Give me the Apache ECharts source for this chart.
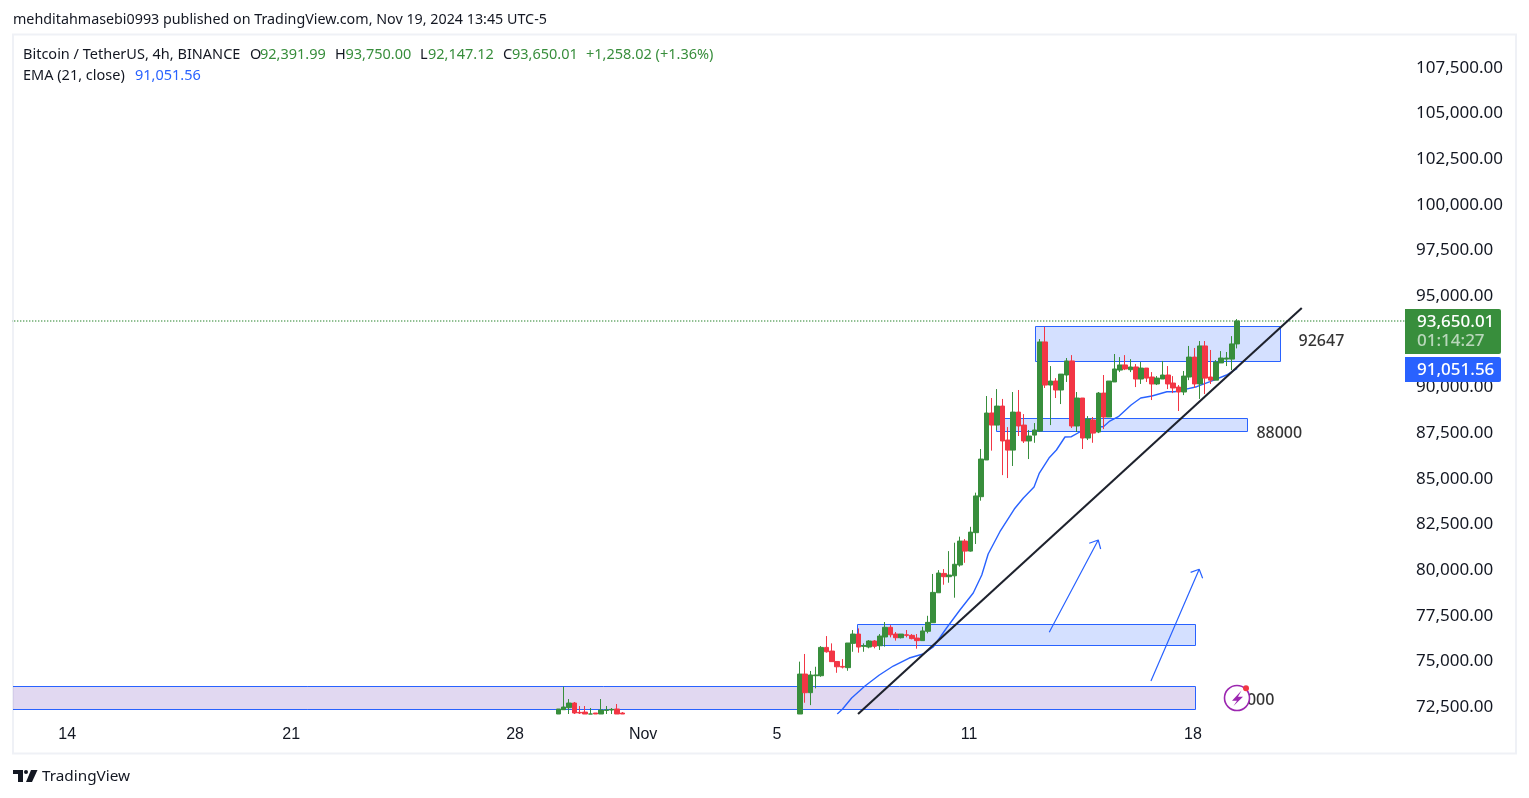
<!DOCTYPE html>
<html><head><meta charset="utf-8">
<style>html,body{margin:0;padding:0;background:#fff}#c{width:1529px;height:798px}</style>
<script src="https://cdn.jsdelivr.net/npm/echarts@6/dist/echarts.min.js"></script>
</head><body><div id="c"></div>
<script>
// bar position (4h bars counted from the Oct 14 label), then OHLC (only the visible part of each bar could be read)
const barX=[92.7,93.7,94.7,95.7,96.7,97.7,98.7,99.7,100.7,101.7,102.7,103.7,104.7,
138,139,140,141,142,143,144,145,146,147,148,149,150,151,152,153,154,155,156,157,158,159,160,161,162,163,164,165,166,167,168,169,170,171,172,173,174,175,176,177,178,179,180,181,182,183,184,185,186,187,188,189,190,191,192,193,194,195,196,197,198,199,200,201,202,203,204,205,206,207,208,209,210,211,212,213,214,215,216,217,218,219,220];
const barOpen=[72134,72370,72480,72735,72224,72240,72134,72188,72134,72330,72352,72407,72188,
72134,74320,73300,74230,74230,75780,75580,75010,74740,74670,76000,76510,75840,75800,76130,75870,76350,76880,76510,76310,76470,76440,76290,76150,76660,77130,78770,79830,79650,79700,80290,81600,81050,82060,84030,86040,88610,87950,88990,87130,86580,88660,87950,87080,87400,87620,92500,90140,90360,89870,90690,91460,87900,89430,87240,88230,87570,89700,88390,90310,90960,91240,90980,91130,90470,91070,90580,90200,90470,90690,90250,90030,89760,90580,91670,90200,92280,90580,90410,91350,91560,91560,92391.99];
const barClose=[72407,72516,72735,72188,72188,72134,72134,72134,72352,72352,72388,72134,72134,
74320,73300,74270,74270,75780,75540,75000,74720,74700,76020,76510,75800,75870,76130,75840,76400,76880,76470,76310,76510,76440,76260,76150,76680,77150,78790,79850,79650,79740,80330,81600,81050,82090,84070,86090,88610,87950,88990,87080,86580,88660,87900,87080,87350,87680,92500,90140,90360,89870,90740,91460,87900,89430,87240,88280,87510,89700,88390,90360,91020,91240,91020,91130,90470,91070,90520,90200,90520,90690,90200,89980,89760,90630,91670,90200,92280,90520,90410,91400,91620,91620,92392,93650.01];
const barLow=[72134,72370,72134,72134,72134,72134,72134,72134,72134,72134,72134,72134,72134,
72134,72750,72620,73540,74170,75490,75000,74390,74630,74500,75540,75490,75540,75730,75730,75640,75820,76330,76150,76270,76330,76220,75710,76150,76550,77130,78770,79210,79320,78500,80200,80410,81020,81440,83810,86040,86550,87680,85210,85050,85710,87350,86970,86090,86980,87570,89980,87950,89430,89100,90310,87790,87570,86640,87130,86980,87510,87730,88390,90310,90850,90960,90850,90030,90200,90310,89320,90140,90470,89920,89700,88720,89590,90410,89980,89380,89650,90200,90410,91350,91180,90960,92147.12];
const barHigh=[72407,73629,72954,72790,72571,72571,72461,72188,72954,72571,72461,72680,72240,
75000,75420,74490,74720,75850,76400,76000,75010,75140,76020,76730,76820,76000,76180,76180,76510,77170,77000,76620,76510,76730,76510,76510,76910,77510,79800,80010,80070,81050,81510,81840,81710,82380,84250,86640,89540,89430,89920,89380,87840,89760,89870,88550,87680,88060,92660,93320,91180,90520,90740,91620,91780,89760,89430,88440,88390,89760,90690,90360,91840,91670,91780,91560,91290,91400,91070,90850,90630,91460,91180,90630,90140,90910,92280,92170,92550,92550,92060,91510,92000,91950,92820,93750];

const emaX=[145,146,147.7,150.2,152.9,155.5,158.5,161.1,163,165.5,168,170.5,172.1,173.3,175.5,178.2,179.9,181.9,182.9,184.7,186.1,187.7,188.9,190.8,192.9,194.9,196.1,197.7,200.1,201.9,204,206.8,208.3,210.2,212.4,214.9,218,220];
const emaValues=[72134,72407,73009,73666,74268,74761,75199,75418,75801,76841,77826,78757,79742,80892,82112,83355,83957,84559,85326,86147,86585,87297,87313,87626,87860,87860,88172,88407,89048,89431,89541,89776,89776,89907,90050,90324,90691,91051.56];

// zones: x start, price top, x end, price bottom
const purpleZones=[[-50,73638,212.07,72380]];
const blueZones=[[148.7,77033,212.07,75883],[182,93291,227.9,91375],[174.85,88255,221.9,87543]];

const trendLine=[[148.9,72134],[232.1,94358]];
const arrowOne=[[184.75,76605],[193.94,81658],[192.25,81478],[193.94,81658],[194.39,81165]];
const arrowTwo=[[203.82,73940],[212.87,80055],[211.26,79890],[212.87,80055],[213.51,79561]];
const lastPriceLine=[[-20,93650.01],[300,93650.01]];

const noteLabels=[[231.4,92550,'92647'],[223.5,87515,'88000'],[218.3,72873,'73000']];

const priceTicks=[72500,75000,77500,80000,82500,85000,87500,90000,92500,95000,97500,100000,102500,105000,107500];
const timeTicks=[0.6,42.6,84.6,108.6,133.7,169.7,211.7];
const timeLabels=['14','21','28','Nov','5','11','18'];

const UP='#388e3c',DOWN='#f23645',BLUE='#2962ff',INK='#131722';
const FONT='"Noto Sans"';
const candles=barX.map((x,i)=>[x,barOpen[i],barClose[i],barLow[i],barHigh[i]]);
const ema=emaX.map((x,i)=>[x,emaValues[i]]);

function zoneSeries(data,fill){
  return {type:'custom',data:data,z:1,clip:true,silent:true,encode:{x:[0,2],y:[1,3]},
    renderItem:function(p,api){
      const a=api.coord([api.value(0),api.value(1)]),b=api.coord([api.value(2),api.value(3)]);
      return {type:'rect',shape:{x:Math.round(a[0])+0.5,y:Math.round(a[1])-0.5,width:Math.round(b[0]-a[0]),height:Math.round(b[1]-a[1])},
        style:{fill:fill,stroke:BLUE,lineWidth:1}};
    }};
}
function lineSeries(data,color,width,z,type){
  return {type:'line',data:data,symbol:'none',z:z,silent:true,animation:false,clip:true,
    lineStyle:{color:color,width:width,type:type||'solid'}};
}
function txt(x,y,text,fill,size,weight){
  return {type:'text',x:x,y:y,z:100,silent:true,
    style:{text:text,fill:fill,font:(weight||400)+' '+(size||14.5)+'px '+FONT,textVerticalAlign:'middle',textAlign:'left'}};
}
const graphics=[
  {type:'rect',z:0,silent:true,shape:{x:13,y:34.5,width:1503,height:719},style:{fill:'none',stroke:'#eff1f6',lineWidth:2}},
  txt(13,20,'mehditahmasebi0993 published on TradingView.com, Nov 19, 2024 13:45 UTC-5',INK,14.3),
  txt(23,55,'Bitcoin / TetherUS, 4h, BINANCE',INK),
  txt(250,55,'O',INK),txt(260,55,'92,391.99',UP),
  txt(335,55,'H',INK),txt(345.5,55,'93,750.00',UP),
  txt(420,55,'L',INK),txt(428,55,'92,147.12',UP),
  txt(503,55,'C',INK),txt(512,55,'93,650.01',UP),
  txt(586,55,'+1,258.02 (+1.36%)',UP),
  txt(23,76,'EMA (21, close)',INK),txt(135,76,'91,051.56',BLUE),
  // price tags
  {type:'rect',z:100,silent:true,shape:{x:1405,y:309,width:96,height:45,r:[0,2,2,0]},style:{fill:UP}},
  {type:'rect',z:100,silent:true,shape:{x:1405,y:357,width:96,height:25,r:[0,2,2,0]},style:{fill:BLUE}},
  txt(1417,322,'93,650.01','#fff',17,500),
  txt(1417,341,'01:14:27','rgba(255,255,255,0.65)',17,500),
  txt(1417,370,'91,051.56','#fff',17,500),
  // lightning badge
  {type:'circle',z:100,silent:true,shape:{cx:1237,cy:698,r:12.5},style:{fill:'#fff',stroke:'#9c27b0',lineWidth:1.6}},
  {type:'polygon',z:101,silent:true,shape:{points:[[1241.5,690.5],[1232,700.7],[1237,700.7],[1233.5,706],[1243,696.8],[1238,696.8]]},style:{fill:'#9c27b0'}},
  {type:'circle',z:102,silent:true,shape:{cx:1246,cy:688.3,r:3},style:{fill:DOWN}},
  // TradingView mark
  {type:'polygon',z:100,silent:true,shape:{points:[[13,770],[23,770],[23,782],[18,782],[18,774],[13,774]]},style:{fill:INK}},
  {type:'circle',z:100,silent:true,shape:{cx:26,cy:772,r:2},style:{fill:INK}},
  {type:'polygon',z:100,silent:true,shape:{points:[[31,770],[37.5,770],[32,782],[26,782]]},style:{fill:INK}},
  txt(42,777,'TradingView',INK,15.3)
];

const chart=echarts.init(document.getElementById('c'),null,{renderer:'canvas'});
chart.setOption({
  animation:false,backgroundColor:'#fff',
  grid:{left:13,right:125,top:35,bottom:84,containLabel:false},
  xAxis:{type:'value',min:-9.55,max:251.27,axisLine:{show:false},axisTick:{show:false,customValues:timeTicks},splitLine:{show:false},
    axisLabel:{customValues:timeTicks,margin:13,color:INK,fontSize:16,fontFamily:'"Liberation Sans"',
      formatter:v=>timeLabels[timeTicks.indexOf(v)]||''}},
  yAxis:{type:'value',position:'right',min:72134,max:109302,axisLine:{show:false},axisTick:{show:false,customValues:priceTicks},splitLine:{show:false},
    axisLabel:{customValues:priceTicks,margin:12,color:INK,fontSize:17,fontFamily:FONT,padding:[0,0,1,0],
      formatter:v=>v.toLocaleString('en-US',{minimumFractionDigits:2,maximumFractionDigits:2})}},
  series:[
    zoneSeries(purpleZones,'rgba(103,58,183,0.2)'),
    zoneSeries(blueZones,'rgba(41,98,255,0.2)'),
    lineSeries(lastPriceLine,UP,1.5,2,[1,2]),
    lineSeries(ema,BLUE,1.4,3),
    {type:'candlestick',data:candles,z:4,clip:true,silent:true,barWidth:5,encode:{x:0,y:[1,2,3,4]},
      itemStyle:{color:UP,color0:DOWN,borderColor:UP,borderColor0:DOWN,borderWidth:1}},
    lineSeries(trendLine,'#1e222d',2.1,5),
    lineSeries(arrowOne,BLUE,1.2,5),
    lineSeries(arrowTwo,BLUE,1.2,5),
    {type:'scatter',data:noteLabels,symbolSize:1,z:6,silent:true,itemStyle:{color:'transparent'},
      label:{show:true,position:'right',distance:0,color:'#000',fontSize:16,fontFamily:FONT,fontWeight:500,formatter:p=>p.data[2]}}
  ],
  graphic:graphics
});
</script></body></html>
